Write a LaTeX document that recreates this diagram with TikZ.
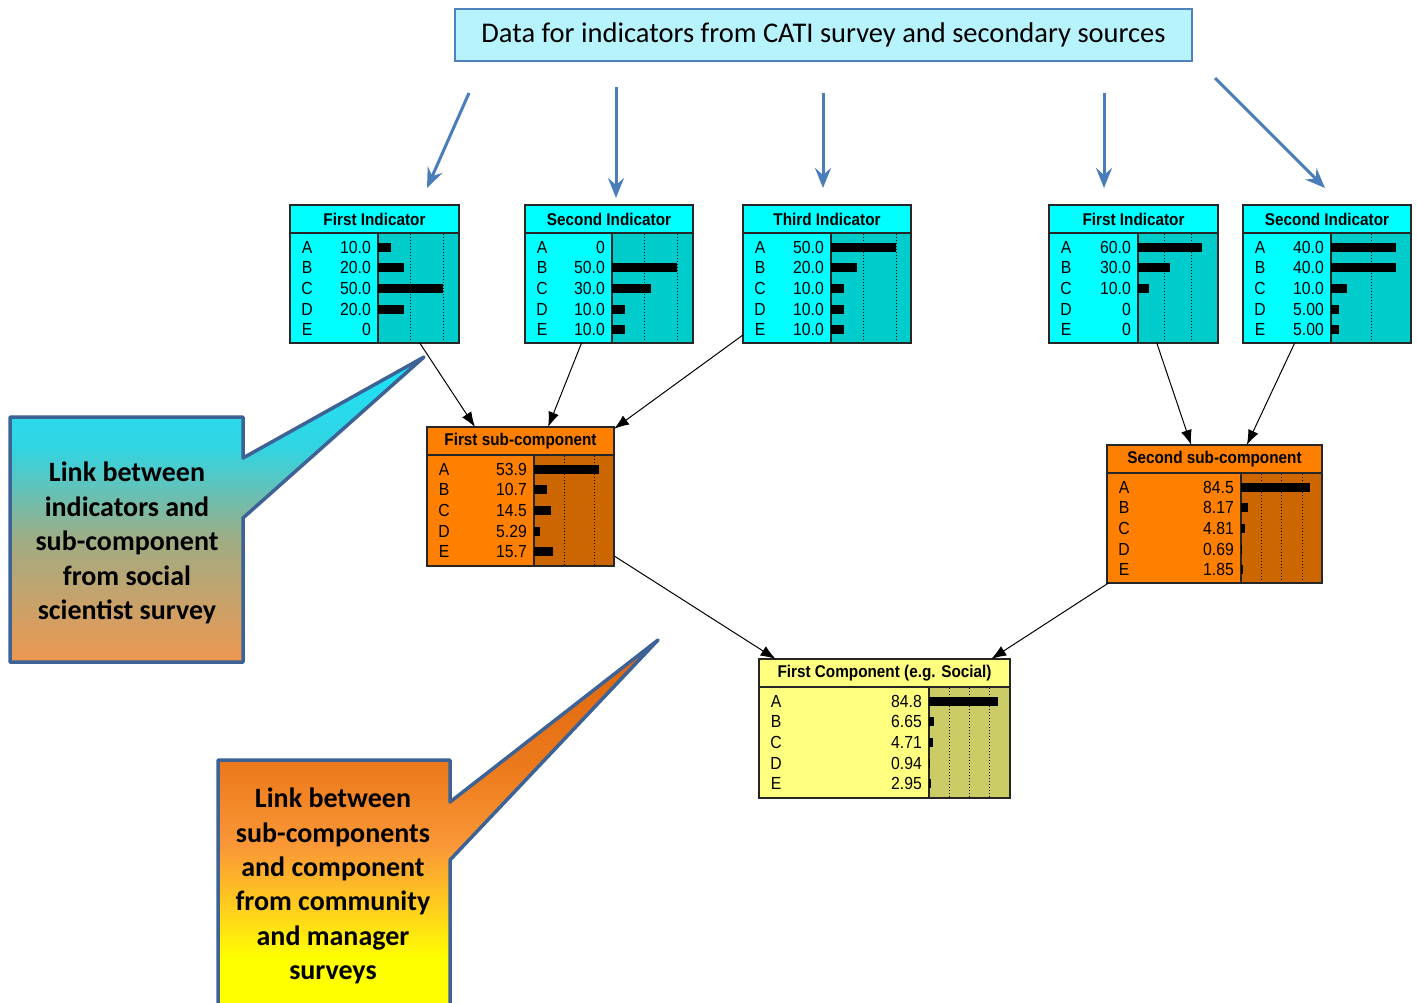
\documentclass[tikz,border=0pt]{standalone}
\usepackage{graphicx}
\usepackage{fontspec}
\setmainfont{Liberation Sans}
\newfontfamily\calib{Carlito}
\usetikzlibrary{arrows.meta}
\definecolor{cyL}{RGB}{0,255,255}
\definecolor{cyR}{RGB}{0,204,204}
\definecolor{orL}{RGB}{255,128,0}
\definecolor{orR}{RGB}{204,102,0}
\definecolor{yeL}{RGB}{255,255,128}
\definecolor{yeR}{RGB}{204,204,102}
\definecolor{hdrfill}{RGB}{183,243,252}
\definecolor{hdrline}{RGB}{79,129,189}
\definecolor{bluearrow}{RGB}{74,126,187}
\definecolor{callline}{RGB}{61,99,150}
\definecolor{c1a}{RGB}{26,228,250}
\definecolor{c1b}{RGB}{50,212,226}
\definecolor{c1c}{RGB}{160,172,132}
\definecolor{c1d}{RGB}{238,152,80}
\definecolor{c2tip}{RGB}{222,100,10}
\definecolor{c2a}{RGB}{236,122,28}
\definecolor{c2b}{RGB}{250,152,55}
\definecolor{c2c}{RGB}{255,205,30}
\definecolor{ylw}{RGB}{255,255,0}
\pgfdeclareverticalshading{calloutA}{100bp}{color(0bp)=(c1d); color(25bp)=(c1d); color(45bp)=(c1c); color(60bp)=(c1b); color(75bp)=(c1a); color(100bp)=(c1a)}
\pgfdeclareverticalshading{calloutB}{100bp}{color(0bp)=(ylw); color(32bp)=(ylw); color(39bp)=(c2c); color(47bp)=(c2b); color(58bp)=(c2a); color(75bp)=(c2tip); color(100bp)=(c2tip)}
\newcommand\nar[1]{\scalebox{0.9}[1]{#1}}
\tikzset{
  netbox/.style={anchor=north west, inner sep=0pt, outer sep=0pt},
  netborder/.style={draw=black!85, line width=1.5pt},
  sepline/.style={draw=black!85, line width=1.5pt},
  gridline/.style={draw=black, line width=1pt, dotted},
  nettitle/.style={inner sep=0pt, font=\bfseries\fontsize{17}{17}\selectfont},
  rowtxt/.style={inner sep=0pt, font=\fontsize{17.5}{17.5}\selectfont},
  link/.style={draw=black, line width=1pt, -{Latex[length=15pt,width=11pt]}},
  blue/.style={draw=bluearrow, line width=3pt, -{Stealth[length=20pt,width=16pt,inset=7pt]}},
  callout/.style={draw=callline, line width=3.5pt, line join=round},
  calltext/.style={inner sep=0pt, align=center, font=\calib\bfseries\fontsize{28}{34.4}\selectfont}
}
% #1 name #2 left #3 top #4 width #5 height #6 split x #7 colour prefix #8 title #9 scale
\newcommand\netnode[9]{%
  \node[netbox, fill=#7L, minimum width=#4, minimum height=#5] (#1) at (#2,#3) {};
  \fill[#7R] (#6,#3+28) rectangle (#2+#4,#3+#5);
  \foreach \q in {25,50,75}{%
    \pgfmathsetmacro\xq{#6+\q*#9}%
    \pgfmathtruncatemacro\ok{\xq<#2+#4-4 ? 1 : 0}%
    \ifnum\ok=1 \draw[gridline] (\xq,#3+29) -- (\xq,#3+#5);\fi}
  \draw[sepline] (#2,#3+28) -- (#2+#4,#3+28);
  \draw[sepline] (#6,#3+28) -- (#6,#3+#5);
  \node[nettitle] at (#2+#4/2,#3+14.5) {\nar{#8}};
  \draw[netborder] (#1.north west) rectangle (#1.south east);
}
% #1 left #2 top #3 split #4 scale #5 list
\newcommand\netrows[5]{%
  \foreach \L/\v [count=\i] in {#5}{%
    \pgfmathsetmacro\yy{#2+42+(\i-1)*20.7}%
    \node[rowtxt, anchor=center] at (#1+17,\yy) {\nar{\L}};
    \node[rowtxt, anchor=east] at (#3-7,\yy) {\nar{\v}};
    \fill[black] (#3,\yy-4.5) rectangle (#3+\v*#4,\yy+4.5);
  }}
\begin{document}
\begin{tikzpicture}[x=1pt,y=-1pt]
\useasboundingbox (0,0) rectangle (1417,1002);
\clip (0,0) rectangle (1417,1002);
\fill[white] (0,0) rectangle (1417,1002);

% header
\node[draw=hdrline, line width=1.5pt, fill=hdrfill, minimum width=737, minimum height=52, inner sep=0pt,
      font=\calib\fontsize{28.5}{28.5}\selectfont] (hdr) at (823.5,35) {Data for indicators from CATI survey and secondary sources};

% blue arrows
\coordinate (b1s) at (469,93);   \coordinate (b1e) at (427,188);
\coordinate (b2s) at (616,87);   \coordinate (b2e) at (616,198);
\coordinate (b3s) at (823,93);   \coordinate (b3e) at (823,188);
\coordinate (b4s) at (1104,93);  \coordinate (b4e) at (1104,188);
\coordinate (b5s) at (1215,78);  \coordinate (b5e) at (1325,188);
\foreach \k in {1,...,5}{\draw[blue] (b\k s) -- (b\k e);}

% callouts
\path[callout, shading=calloutA] (10,417) -- (243,417) -- (243,458) -- (424,357) -- (243,518) -- (243,662) -- (10,662) -- cycle;
\node[calltext] (c1txt) at (127,543) {Link between\\indicators and\\sub-component\\from social\\scientist survey};
\path[callout, shading=calloutB] (218,760) -- (450,760) -- (450,802) -- (658,640) -- (450,860) -- (450,1010) -- (218,1010) -- cycle;
\node[calltext] (c2txt) at (333,886) {Link between\\sub-components\\and component\\from community\\and manager\\surveys};

% nodes
\netnode{fi1}{290}{205}{169}{138}{378}{cy}{First Indicator}{1.3}
\netrows{290}{205}{378}{1.3}{A/10.0, B/20.0, C/50.0, D/20.0, E/0}
\netnode{si1}{525}{205}{168}{138}{612}{cy}{Second Indicator}{1.3}
\netrows{525}{205}{612}{1.3}{A/0, B/50.0, C/30.0, D/10.0, E/10.0}
\netnode{ti1}{743}{205}{168}{138}{831}{cy}{Third Indicator}{1.3}
\netrows{743}{205}{831}{1.3}{A/50.0, B/20.0, C/10.0, D/10.0, E/10.0}
\netnode{fi2}{1049}{205}{169}{138}{1138}{cy}{First Indicator}{1.07}
\netrows{1049}{205}{1138}{1.07}{A/60.0, B/30.0, C/10.0, D/0, E/0}
\netnode{si2}{1243}{205}{168}{138}{1331}{cy}{Second Indicator}{1.625}
\netrows{1243}{205}{1331}{1.625}{A/40.0, B/40.0, C/10.0, D/5.00, E/5.00}
\netnode{fs1}{427}{427}{187}{139}{534}{or}{First sub-component}{1.2}
\netrows{427}{427}{534}{1.2}{A/53.9, B/10.7, C/14.5, D/5.29, E/15.7}
\netnode{ss1}{1107}{445}{215}{138}{1241}{or}{Second sub-component}{0.816}
\netrows{1107}{445}{1241}{0.816}{A/84.5, B/8.17, C/4.81, D/0.69, E/1.85}
\netnode{fc}{759}{659}{251}{139}{929}{ye}{First Component (e.g. Social)}{0.81}
\netrows{759}{659}{929}{0.81}{A/84.8, B/6.65, C/4.71, D/0.94, E/2.95}

% links
\draw[link] (fi1) -- (fs1);
\draw[link] (si1) -- (fs1);
\draw[link] (ti1) -- (fs1);
\draw[link] (fi2) -- (ss1);
\draw[link] (si2) -- (ss1);
\draw[link] (fs1) -- (fc);
\draw[link] (ss1) -- (fc);
\end{tikzpicture}
\end{document}
